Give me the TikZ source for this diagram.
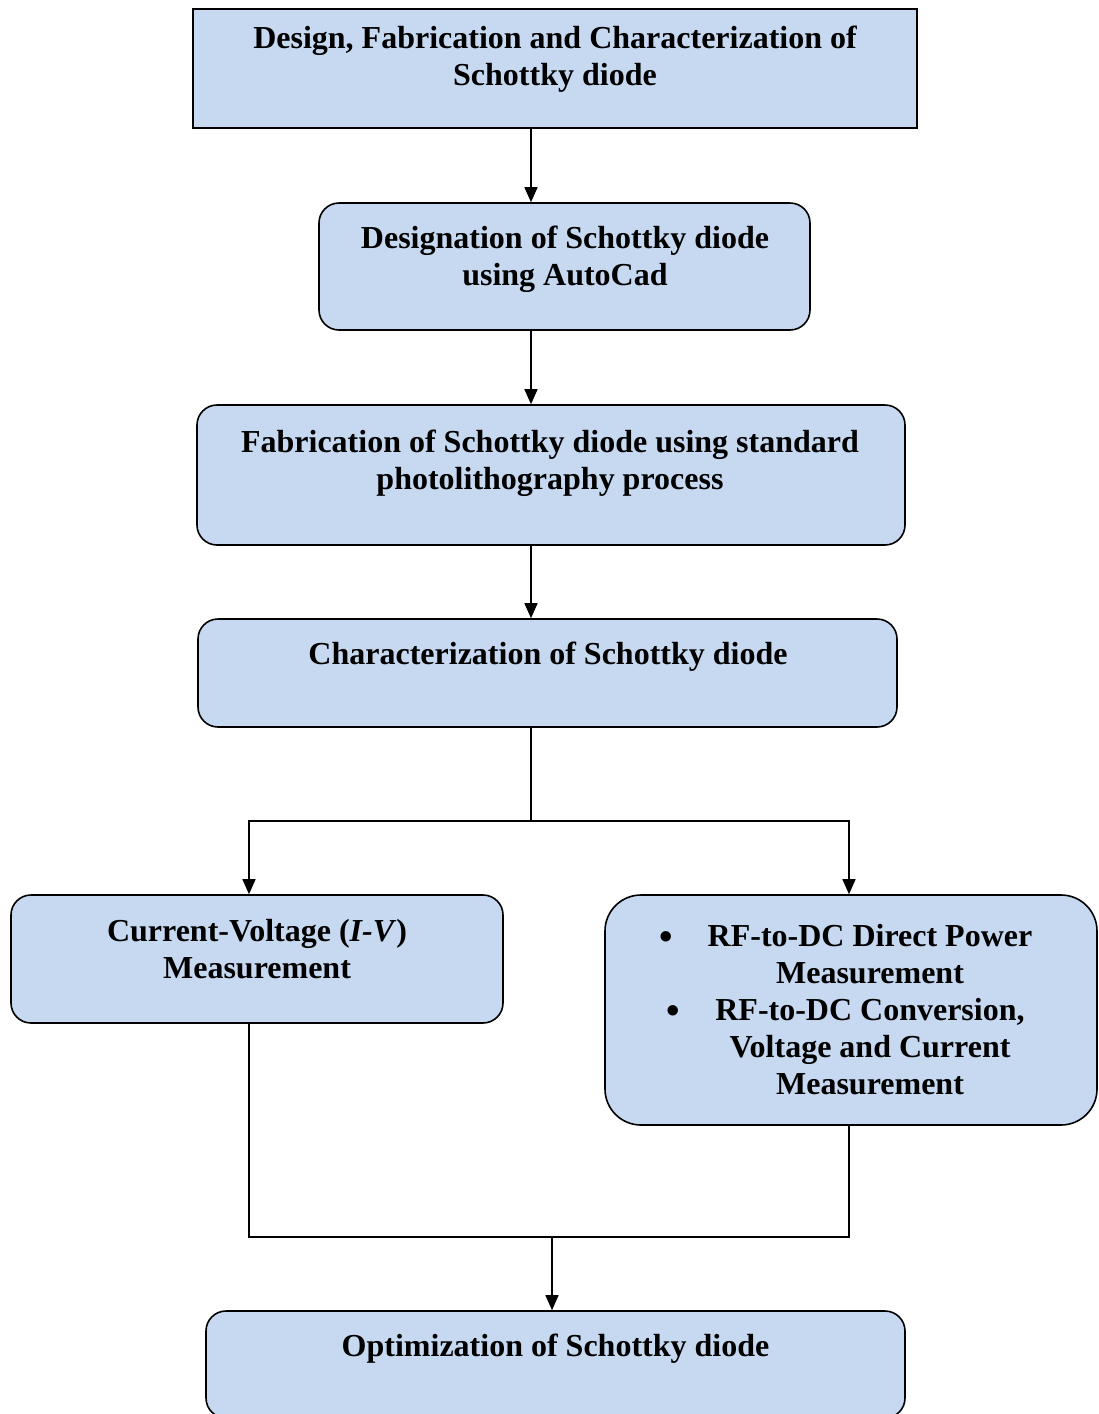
\documentclass[tikz,border=0pt]{standalone}
\usepackage{fontspec}
\setmainfont{Liberation Serif}
\usetikzlibrary{arrows.meta}
\definecolor{boxfill}{RGB}{198,217,241}
\newcommand{\mybul}{\llap{\raisebox{-2.5pt}{\scalebox{1.2}{\textbullet}}\hspace{35pt}}}
\begin{document}
\begin{tikzpicture}[x=1pt,y=-1pt,
  box/.style={draw=black, line width=1.6pt, fill=boxfill, inner sep=0pt, rounded corners=20pt},
  txt/.style={anchor=north, inner sep=0pt, align=center, font=\fontsize{32}{37}\selectfont\bfseries},
  arr/.style={line width=1.5pt, -{Triangle[length=15pt,width=13pt]}},
  ln/.style={line width=1.5pt}]
\useasboundingbox (0,0) rectangle (1099,1414);
\clip (0,0) rectangle (1099,1414);

% boxes
\node[box, rounded corners=0pt, minimum width=724pt, minimum height=119pt] (b1) at (555,68.5) {};
\node[box, minimum width=491pt, minimum height=127pt] (b2) at (564.5,266.5) {};
\node[box, minimum width=708pt, minimum height=140pt] (b3) at (551,475) {};
\node[box, minimum width=699pt, minimum height=108pt] (b4) at (547.5,673) {};
\node[box, minimum width=492pt, minimum height=128pt] (b5) at (257,959) {};
\node[box, rounded corners=36pt, minimum width=492pt, minimum height=230pt] (b6) at (851,1010) {};
\node[box, minimum width=699pt, minimum height=107pt] (b7) at (555.5,1364.5) {};

% texts
\node[txt] (t1) at (555,23.5) {\rule{0pt}{25pt}Design, Fabrication and Characterization of\\Schottky diode};
\node[txt] (t2) at (565,223.5) {\rule{0pt}{25pt}Designation of Schottky diode\\using AutoCad};
\node[txt] (t3) at (550,427.5) {\rule{0pt}{25pt}Fabrication of Schottky diode using standard\\photolithography process};
\node[txt] (t4) at (548,639.5) {\rule{0pt}{25pt}Characterization of Schottky diode};
\node[txt] (t5) at (257,916.5) {\rule{0pt}{25pt}Current-Voltage (\textit{I-V})\\Measurement};
\node[txt] (t6) at (870,921.5) {\rule{0pt}{25pt}\mybul RF-to-DC Direct Power\\Measurement\\\mybul RF-to-DC Conversion,\\Voltage and Current\\Measurement};
\node[txt] (t7) at (555.5,1331.5) {\rule{0pt}{25pt}Optimization of Schottky diode};

% connector coordinates
\coordinate (xa) at (531,0);
\coordinate (xl) at (249,0);
\coordinate (xr) at (849,0);
\coordinate (split) at (531,821);
\coordinate (join) at (552,1237);

% connectors
\draw[arr] (b1.south -| xa) -- (b2.north -| xa);
\draw[arr] (b2.south -| xa) -- (b3.north -| xa);
\draw[arr] (b3.south -| xa) -- (b4.north -| xa);
\draw[ln] (b4.south -| xa) -- (split);
\draw[arr] (split) -| (b5.north -| xl);
\draw[arr] (split) -| (b6.north -| xr);
\draw[ln] (b5.south -| xl) |- (join) -| (b6.south -| xr);
\draw[arr] (join) -- (b7.north -| join);
\end{tikzpicture}
\end{document}
